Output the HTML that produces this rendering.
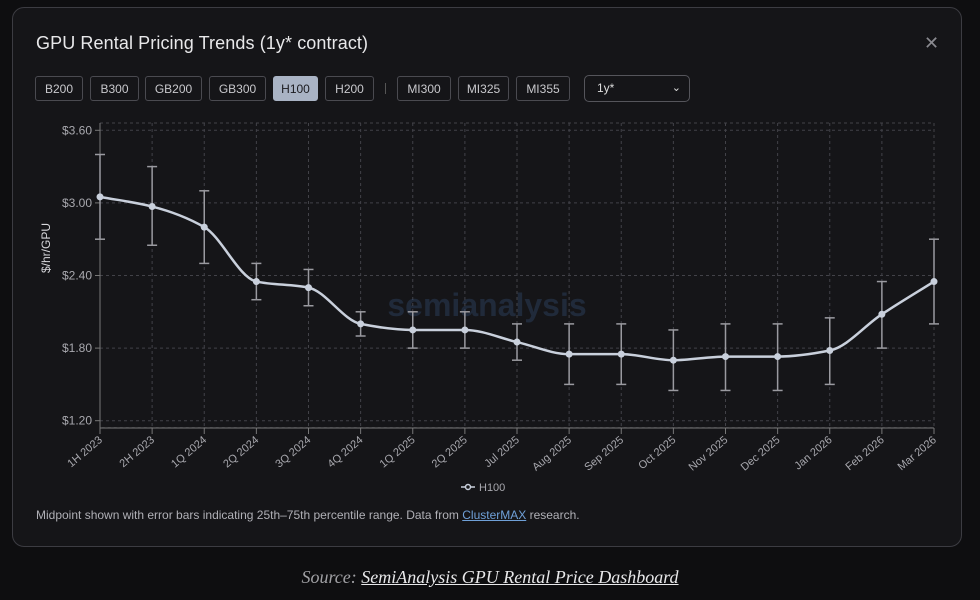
<!DOCTYPE html>
<html><head><meta charset="utf-8"><style>
body{margin:0;width:980px;height:600px;background:#0e0e10;font-family:"Liberation Sans",sans-serif;overflow:hidden;position:relative}
.card{position:absolute;left:12px;top:7px;width:950px;height:540px;border:1px solid #3c3c42;border-radius:12px;background:#151518;box-sizing:border-box}
.title{position:absolute;left:36px;top:33px;font-size:18px;color:#e8e8ea;letter-spacing:0.1px}
.close{position:absolute;left:924px;top:33px;color:#8a8a90;font-size:18px}
.btn{position:absolute;top:76px;height:25px;border:1px solid #4a4a50;border-radius:3px;color:#c8c8cc;font-size:12px;line-height:24px;text-align:center;box-sizing:border-box}
.btn.on{background:#a9b3c4;color:#1a1a1e;border-color:#a9b3c4}
.sel{position:absolute;left:584px;top:75px;width:106px;height:27px;border:1px solid #55555b;border-radius:5px;box-sizing:border-box;color:#ddd;font-size:12px;line-height:25px;padding-left:12px}
.foot{position:absolute;left:36px;top:508px;font-size:12px;color:#b0b0b6}
.foot a{color:#6fa0d8;text-decoration:underline}
.src{position:absolute;left:0;width:980px;top:567px;text-align:center;font-family:"Liberation Serif",serif;font-style:italic;font-size:18px;color:#a0a0a4}
.src span{color:#e8e8ea;text-decoration:underline}
</style></head><body>
<div class="card"></div>
<div class="title">GPU Rental Pricing Trends (1y* contract)</div>
<div class="close">✕</div>
<div class="btn" style="left:35px;width:48px">B200</div>
<div class="btn" style="left:90px;width:49px">B300</div>
<div class="btn" style="left:145px;width:57px">GB200</div>
<div class="btn" style="left:209px;width:57px">GB300</div>
<div class="btn on" style="left:273px;width:45px">H100</div>
<div class="btn" style="left:325px;width:49px">H200</div>
<div style="position:absolute;left:385px;top:83px;width:1px;height:11px;background:#555"></div>
<div class="btn" style="left:397px;width:54px">MI300</div>
<div class="btn" style="left:458px;width:51px">MI325</div>
<div class="btn" style="left:516px;width:54px">MI355</div>
<div class="sel">1y*<span style="position:absolute;right:8px;top:0;font-size:11px">⌄</span></div>
<svg id="chart" width="980" height="500" style="position:absolute;left:0;top:0"></svg>
<div class="foot">Midpoint shown with error bars indicating 25th–75th percentile range. Data from <a>ClusterMAX</a> research.</div>
<div class="src">Source: <span>SemiAnalysis GPU Rental Price Dashboard</span></div>
<script>
const categories=["1H 2023","2H 2023","1Q 2024","2Q 2024","3Q 2024","4Q 2024","1Q 2025","2Q 2025","Jul 2025","Aug 2025","Sep 2025","Oct 2025","Nov 2025","Dec 2025","Jan 2026","Feb 2026","Mar 2026"];
const midValues=[3.05,2.97,2.80,2.35,2.30,2.00,1.95,1.95,1.85,1.75,1.75,1.70,1.73,1.73,1.78,2.08,2.35];
const highValues=[3.40,3.30,3.10,2.50,2.45,2.10,2.10,2.10,2.00,2.00,2.00,1.95,2.00,2.00,2.05,2.35,2.70];
const lowValues=[2.70,2.65,2.50,2.20,2.15,1.90,1.80,1.80,1.70,1.50,1.50,1.45,1.45,1.45,1.50,1.80,2.00];
const yTicks=[1.20,1.80,2.40,3.00,3.60];
const NS="http://www.w3.org/2000/svg";
const svg=document.getElementById('chart');
const X0=100,X1=934,Ytop=130.3,Ybot=420.7,YMIN=1.2,YMAX=3.6;
const x=i=>X0+(X1-X0)*i/(categories.length-1);
const y=v=>Ybot-(v-YMIN)/(YMAX-YMIN)*(Ybot-Ytop);
function mk(t,a){const e=document.createElementNS(NS,t);for(const k in a)e.setAttribute(k,a[k]);svg.appendChild(e);return e;}
let e=mk('rect',{x:X0,y:123,width:X1-X0,height:Ybot-123+7,fill:'none',stroke:'#424248','stroke-dasharray':'3 3'});


yTicks.forEach(t=>{
  let l=mk('line',{x1:X0,x2:X1,y1:y(t),y2:y(t),stroke:'#424248','stroke-dasharray':'3 3'});
  
  
  mk('line',{x1:X0-5,x2:X0,y1:y(t),y2:y(t),stroke:'#777'});
  let tx=mk('text',{x:X0-8,y:y(t)+4,'text-anchor':'end',fill:'#a8a8ae','font-size':12});
  tx.textContent='$'+t.toFixed(2);
  
  
});
categories.forEach((c,i)=>{
  let l=mk('line',{x1:x(i),x2:x(i),y1:123,y2:428,stroke:'#424248','stroke-dasharray':'3 3'});
  
  
  mk('line',{x1:x(i),x2:x(i),y1:428,y2:434,stroke:'#777'});
  let tx=mk('text',{x:x(i)+3,y:441,'text-anchor':'end',fill:'#a8a8ae','font-size':11,transform:`rotate(-40 ${x(i)+3} 441)`});
  tx.textContent=c;
  
  
});
mk('line',{x1:X0,x2:X0,y1:123,y2:428,stroke:'#777'});
mk('line',{x1:X0,x2:X1,y1:428,y2:428,stroke:'#777'});
let yt=mk('text',{x:50,y:248,'text-anchor':'middle',fill:'#d8d8dc','font-size':12,transform:'rotate(-90 50 248)'});
yt.textContent='$/hr/GPU';


let wm=mk('text',{x:487,y:316,'text-anchor':'middle','font-size':32,'font-weight':'bold',fill:'#3a5a8a',opacity:0.3});
wm.textContent='semianalysis';


const px=categories.map((c,i)=>x(i)),py=midValues.map(y);
const n=px.length,d=[],m=[];
for(let i=0;i<n-1;i++)d.push((py[i+1]-py[i])/(px[i+1]-px[i]));
for(let i=0;i<n;i++){
  if(i==0)m.push(d[0]);else if(i==n-1)m.push(d[n-2]);
  else m.push(d[i-1]*d[i]<=0?0:2/(1/d[i-1]+1/d[i]));
}
let p=`M${px[0]},${py[0]}`;
for(let i=0;i<n-1;i++){const h=(px[i+1]-px[i])/3;p+=`C${px[i]+h},${py[i]+m[i]*h} ${px[i+1]-h},${py[i+1]-m[i+1]*h} ${px[i+1]},${py[i+1]}`;}
let ln=mk('path',{d:p,fill:'none',stroke:'#c9d0dc','stroke-width':2.5});


categories.forEach((c,i)=>{
  const g=mk('g',{stroke:'#9a9aa0','stroke-width':1.5});
  
  
  [['line',{x1:x(i),x2:x(i),y1:y(highValues[i]),y2:y(lowValues[i])}],['line',{x1:x(i)-5,x2:x(i)+5,y1:y(highValues[i]),y2:y(highValues[i])}],['line',{x1:x(i)-5,x2:x(i)+5,y1:y(lowValues[i]),y2:y(lowValues[i])}]].forEach(([t,a])=>{const q=document.createElementNS(NS,t);for(const k in a)q.setAttribute(k,a[k]);g.appendChild(q);});
  let pt=mk('circle',{cx:x(i),cy:y(midValues[i]),r:3.5,fill:'#c9d0dc'});
  
  
});
mk('line',{x1:461,x2:475,y1:487,y2:487,stroke:'#c9d0dc','stroke-width':1.5});
mk('circle',{cx:468,cy:487,r:2.5,fill:'#151518',stroke:'#c9d0dc','stroke-width':1.5});
let lg=mk('text',{x:479,y:491,fill:'#a8a8ae','font-size':11});
lg.textContent='H100';


</script>
</body></html>
